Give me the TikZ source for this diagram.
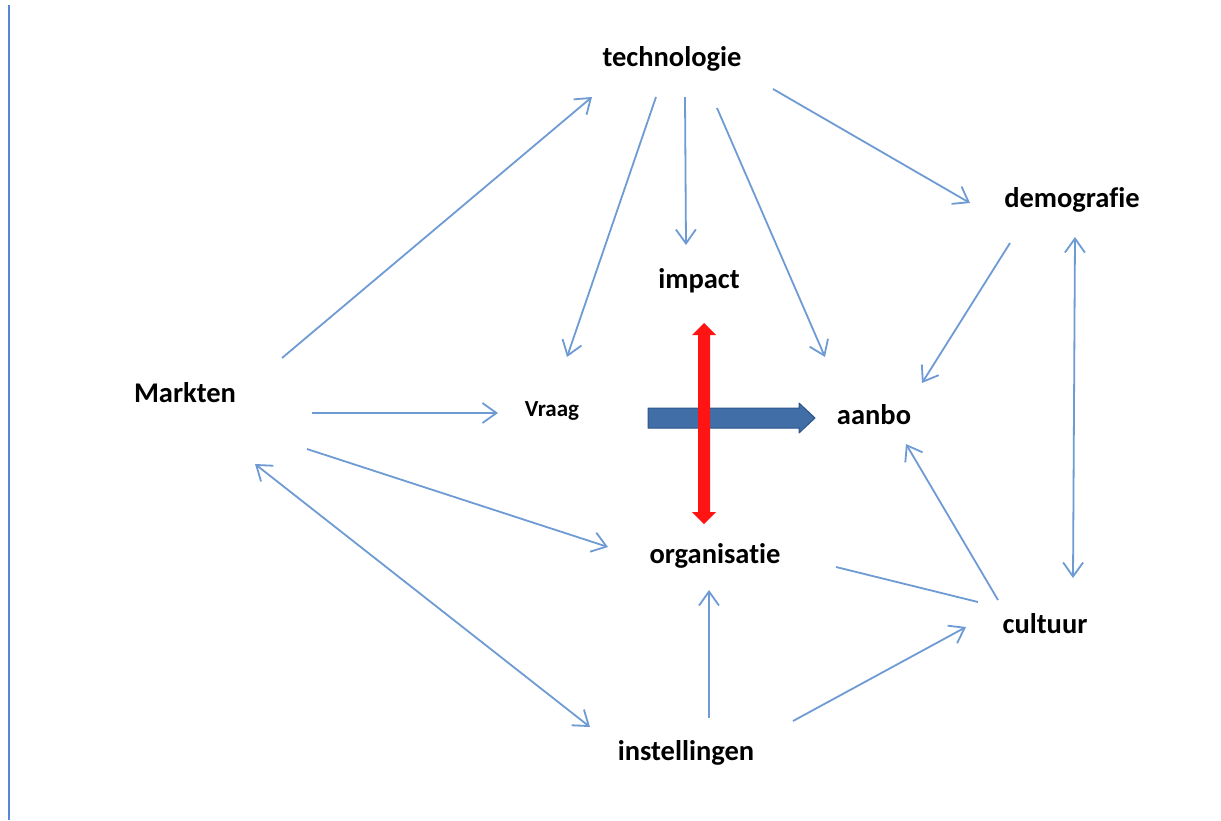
\documentclass[tikz,border=0pt]{standalone}
\usepackage{fontspec}
\setmainfont{Carlito}[Ligatures={NoCommon,NoContextual}]
\usetikzlibrary{arrows.meta,calc}
\definecolor{linkblue}{RGB}{110,155,212}
\definecolor{edgeblue}{RGB}{84,136,210}
\definecolor{flowfill}{RGB}{66,110,168}
\definecolor{flowedge}{RGB}{46,84,136}
\definecolor{tensionred}{RGB}{255,20,20}
% keep letter pairs such as f-i and t-i apart
\newcommand{\nolig}{\kern0pt{}}
\tikzset{
  x=1pt, y=-1pt,
  term/.style={font=\fontsize{28.5}{30}\selectfont\bfseries, inner sep=0pt},
  smallterm/.style={font=\fontsize{23}{25}\selectfont\bfseries, inner sep=0pt},
  conn/.style={draw=linkblue, line width=1.8pt, -{Straight Barb[length=14pt,width=20pt]}},
  biconn/.style={draw=linkblue, line width=1.8pt, {Straight Barb[length=14pt,width=20pt]}-{Straight Barb[length=14pt,width=20pt]}},
  plainconn/.style={draw=linkblue, line width=1.8pt},
}
\begin{document}
\begin{tikzpicture}
\useasboundingbox (0,0) rectangle (1221,820);
\fill[white] (0,0) rectangle (1221,820);
% margin rule on the left
\draw[edgeblue, line width=2.2pt] (9,5) -- (9,820);

% terms
\node[term] (T) at (672,59) {technologie};
\node[term] (I) at (699,281) {impact};
\node[term] (M) at (185,393) {Markten};
\node[smallterm] (V) at (552,411) {Vraag};
\node[term] (A) at (874,415) {aanbo};
\node[term] (D) at (1072,200) {demograf\nolig ie};
\node[term] (O) at (715,556) {organisat\nolig ie};
\node[term] (C) at (1045,624) {cultuur};
\node[term] (N) at (686,753) {instellingen};

% influences
\draw[conn] ([shift={(97,-35)}]M.center) -- ([shift={(-80,38)}]T.center);
\draw[conn] ([shift={(-16,38)}]T.center) -- ([shift={(15,-54)}]V.center);
\draw[conn] ([shift={(13,38)}]T.center) -- ([shift={(-13,-36)}]I.center);
\draw[conn] ([shift={(45,49)}]T.center) -- ([shift={(-49,-58)}]A.center);
\draw[conn] ([shift={(101,30)}]T.center) -- ([shift={(-102,3)}]D.center);
\draw[conn] ([shift={(-62,43)}]D.center) -- ([shift={(48,-32)}]A.center);
\draw[biconn] ([shift={(3,37)}]D.center) -- ([shift={(28,-46)}]C.center);
\draw[conn] ([shift={(127,20)}]M.center) -- ([shift={(-54,2)}]V.center);
\draw[conn] ([shift={(122,56)}]M.center) -- ([shift={(-107,-9)}]O.center);
\draw[biconn] ([shift={(70,71)}]M.center) -- ([shift={(-96,-26)}]N.center);
\draw[conn] ([shift={(23,-35)}]N.center) -- ([shift={(-6,34)}]O.center);
\draw[conn] ([shift={(107,-32)}]N.center) -- ([shift={(-79,3)}]C.center);
\draw[conn] ([shift={(-47,-24)}]C.center) -- ([shift={(32,29)}]A.center);
\draw[plainconn] ([shift={(121,11)}]O.center) -- ([shift={(-67,-22)}]C.center);

% main flow from demand to supply
\coordinate (flowS) at ([shift={(96,7)}]V.center);
\coordinate (flowE) at ([shift={(-59,3)}]A.center);
\filldraw[fill=flowfill, draw=flowedge, line width=1pt, line join=round]
  ($(flowS)+(0,-10)$) -- ($(flowE)+(-16,-10)$) -- ($(flowE)+(-16,-15)$)
  -- (flowE) -- ($(flowE)+(-16,15)$) -- ($(flowE)+(-16,10)$)
  -- ($(flowS)+(0,10)$) -- cycle;

% tension between impact and organisation
\coordinate (redT) at ([shift={(5,42)}]I.center);
\coordinate (redB) at ([shift={(-11,-32)}]O.center);
\fill[tensionred]
  (redT) -- ($(redT)+(12,12)$) -- ($(redT)+(6,12)$) -- ($(redB)+(6,-12)$)
  -- ($(redB)+(12,-12)$) -- (redB) -- ($(redB)+(-12,-12)$) -- ($(redB)+(-6,-12)$)
  -- ($(redT)+(-6,12)$) -- ($(redT)+(-12,12)$) -- cycle;
\end{tikzpicture}
\end{document}
